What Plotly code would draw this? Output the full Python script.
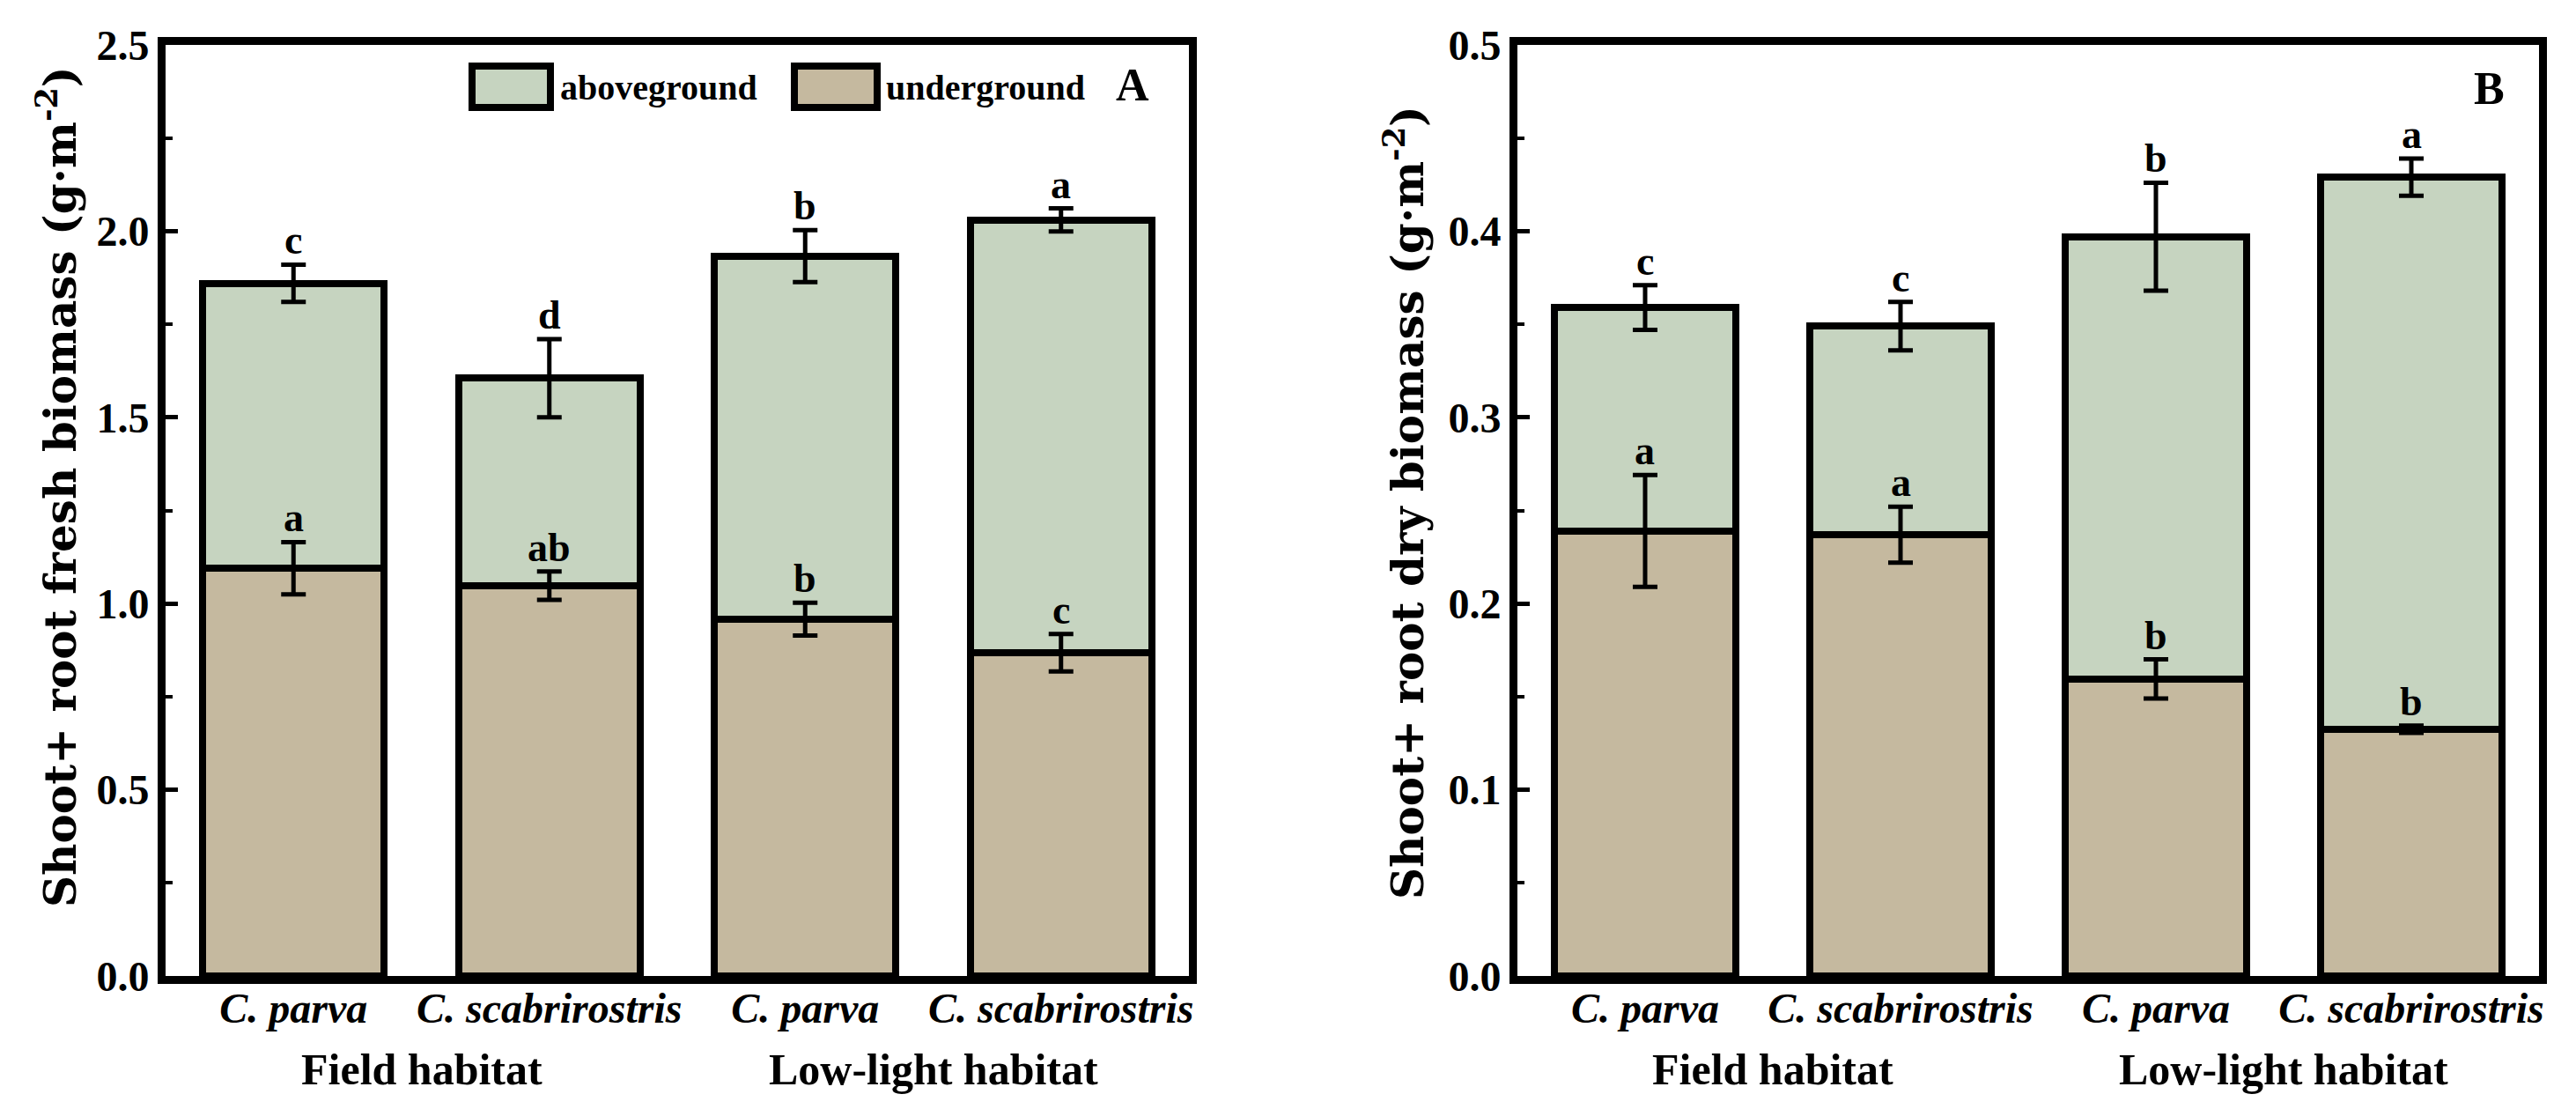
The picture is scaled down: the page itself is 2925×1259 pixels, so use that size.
import plotly.graph_objects as go
from plotly.subplots import make_subplots

# ---------------- data ----------------
x_pos = [0, 1, 2, 3]
species_labels = ["C. parva", "C. scabrirostris", "C. parva", "C. scabrirostris"]
habitat_labels = ["Field habitat", "Low-light habitat"]
habitat_pos = [0.5, 2.5]

# Panel A: fresh biomass (g·m-2)
fresh_total = [1.86, 1.605, 1.933, 2.03]
fresh_total_err = [0.05, 0.105, 0.07, 0.031]
fresh_under = [1.095, 1.048, 0.958, 0.868]
fresh_under_err = [0.07, 0.038, 0.044, 0.05]
fresh_total_letters = ["c", "d", "b", "a"]
fresh_under_letters = ["a", "ab", "b", "c"]

# Panel B: dry biomass (g·m-2)
dry_total = [0.359, 0.349, 0.397, 0.429]
dry_total_err = [0.012, 0.013, 0.029, 0.010]
dry_under = [0.239, 0.237, 0.1595, 0.1325]
dry_under_err = [0.030, 0.015, 0.0105, 0.002]
dry_total_letters = ["c", "c", "b", "a"]
dry_under_letters = ["a", "a", "b", "b"]

y_titles = ["Shoot+ root fresh biomass (g·m<sup>-2</sup>)", "Shoot+ root dry biomass (g·m<sup>-2</sup>)"]

ABOVE_COLOR = "#c6d4c0"
UNDER_COLOR = "#c5b99f"
SERIF = "Liberation Serif, Times New Roman, serif"

W, H = 2925, 1259
# plot-area pixel boxes
A_box = (188, 1350)
B_box = (1723, 2883)
Y_box = (51, 1108)

fig = make_subplots(rows=1, cols=2)

def add_panel(col, total, total_err, under, under_err, t_letters, u_letters, xref, yref):
    above = [t - u for t, u in zip(total, under)]
    fig.add_trace(go.Bar(x=x_pos, y=under, marker=dict(color=UNDER_COLOR, line=dict(color="black", width=8)),
                         name="underground", showlegend=False), row=1, col=col)
    fig.add_trace(go.Bar(x=x_pos, y=above, marker=dict(color=ABOVE_COLOR, line=dict(color="black", width=8)),
                         name="aboveground", showlegend=False), row=1, col=col)
    for yv, ev in ((total, total_err), (under, under_err)):
        fig.add_trace(go.Scatter(x=x_pos, y=yv, mode="markers", marker=dict(size=1, opacity=0),
                                 error_y=dict(type="data", array=ev, visible=True, color="black",
                                              thickness=5, width=14),
                                 showlegend=False, hoverinfo="skip"), row=1, col=col)
    for yv, ev, letters in ((total, total_err, t_letters), (under, under_err, u_letters)):
        for xi, v, e, lt in zip(x_pos, yv, ev, letters):
            fig.add_annotation(x=xi, y=v + e, xref=xref, yref=yref, text=lt, showarrow=False,
                               yanchor="bottom", yshift=0,
                               font=dict(family=SERIF, size=46, color="black", weight="bold"))

add_panel(1, fresh_total, fresh_total_err, fresh_under, fresh_under_err,
          fresh_total_letters, fresh_under_letters, "x", "y")
add_panel(2, dry_total, dry_total_err, dry_under, dry_under_err,
          dry_total_letters, dry_under_letters, "x2", "y2")

ydom = [1 - Y_box[1] / H, 1 - Y_box[0] / H]

common_x = dict(tickvals=x_pos, ticktext=species_labels, range=[-0.5, 3.5],
                showline=True, linewidth=9, linecolor="black", mirror=True,
                ticks="", showgrid=False, zeroline=False, ticklabelstandoff=-14,
                tickfont=dict(family=SERIF, size=48, color="black", weight="bold", style="italic"))
common_y = dict(showline=True, linewidth=9, linecolor="black", mirror=True,
                ticks="inside", ticklen=14, tickwidth=5, tickcolor="black",
                showgrid=False, zeroline=False, tickformat=".1f",
                tickfont=dict(family=SERIF, size=48, color="black", weight="bold"))

fig.update_xaxes(common_x)
fig.update_yaxes(common_y)
fig.update_layout(
    xaxis=dict(domain=[A_box[0] / W, A_box[1] / W]),
    xaxis2=dict(domain=[B_box[0] / W, B_box[1] / W]),
    yaxis=dict(domain=ydom, range=[0, 2.5], dtick=0.5,
               minor=dict(ticks="inside", ticklen=8, tickwidth=4, tickcolor="black", dtick=0.25)),
    yaxis2=dict(domain=ydom, range=[0, 0.5], dtick=0.1,
                minor=dict(ticks="inside", ticklen=8, tickwidth=4, tickcolor="black", dtick=0.05)),
)

# y-axis titles
for title, px, py in zip(y_titles, (65, 1595), (553, 570)):
    fig.add_annotation(x=px / W, y=1 - py / H, xref="paper", yref="paper", text=title, textangle=-90,
                       showarrow=False, xanchor="center", yanchor="middle",
                       font=dict(family="DejaVu Serif", size=50, color="black", weight="bold"))

# habitat labels
for xr in ("x", "x2"):
    for lbl, xp in zip(habitat_labels, habitat_pos):
        fig.add_annotation(x=xp, y=1 - 1214 / H, xref=xr, yref="paper", text=lbl, showarrow=False,
                           yanchor="middle", font=dict(family=SERIF, size=50, color="black", weight="bold"))

# panel letters
def xd(px, box):
    return (px - box[0]) / (box[1] - box[0])

def yd(py):
    return 1 - (py - Y_box[0]) / (Y_box[1] - Y_box[0])

fig.add_annotation(x=xd(1286, A_box), y=yd(96), xref="x domain", yref="y domain", text="A",
                   showarrow=False, xanchor="center", yanchor="middle",
                   font=dict(family=SERIF, size=52, color="black", weight="bold"))
fig.add_annotation(x=xd(2826, B_box), y=yd(100), xref="x2 domain", yref="y2 domain", text="B",
                   showarrow=False, xanchor="center", yanchor="middle",
                   font=dict(family=SERIF, size=52, color="black", weight="bold"))

# legend (drawn manually to match large swatches)
legend_items = [("aboveground", ABOVE_COLOR, 536, 625, 634), ("underground", UNDER_COLOR, 902, 996, 1004)]
for name, color, x0, x1, tx in legend_items:
    fig.add_shape(type="rect", xref="x domain", yref="y domain",
                  x0=xd(x0, A_box), x1=xd(x1, A_box), y0=yd(122), y1=yd(75),
                  fillcolor=color, line=dict(color="black", width=8))
    fig.add_annotation(x=xd(tx, A_box), y=yd(99), xref="x domain", yref="y domain", text=name,
                       showarrow=False, xanchor="left", yanchor="middle",
                       font=dict(family=SERIF, size=40, color="black", weight="bold"))

fig.update_layout(
    width=W, height=H, barmode="stack", bargap=0.29,
    margin=dict(l=0, r=0, t=0, b=0, autoexpand=False),
    paper_bgcolor="white", plot_bgcolor="white",
    showlegend=False,
)

fig.write_html("out.html", config={"displayModeBar": False},
               post_script="document.body.style.margin='0';document.body.style.overflow='hidden';")
